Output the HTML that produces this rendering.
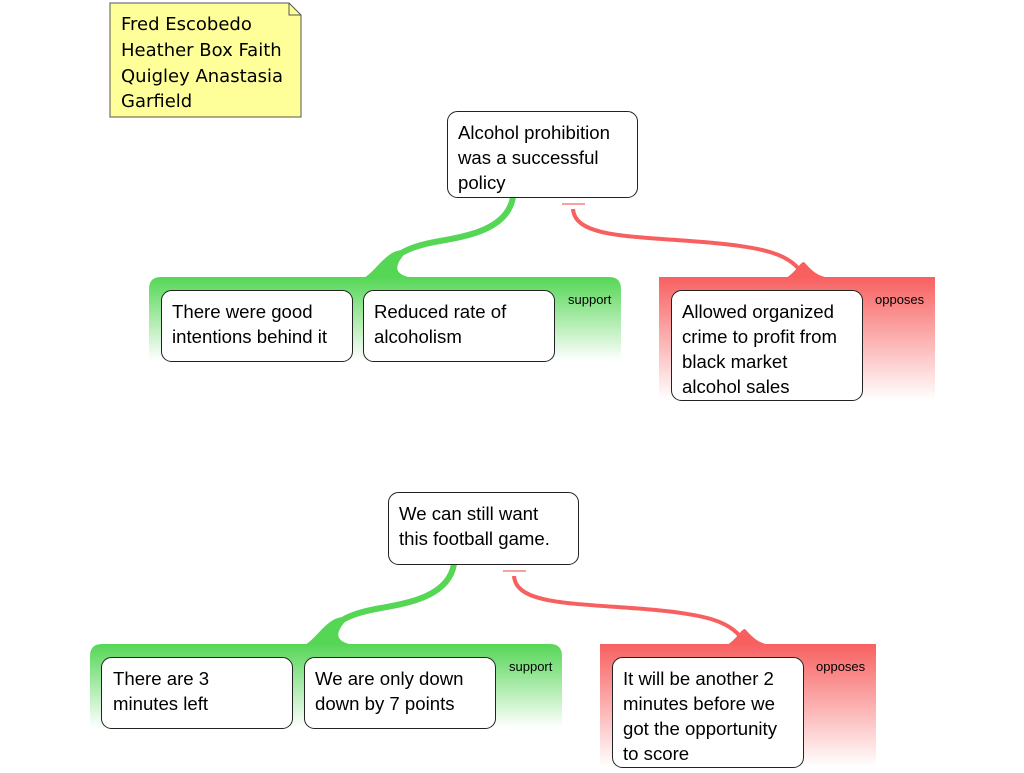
<!DOCTYPE html>
<html><head><meta charset="utf-8"><style>
body{margin:0;background:#fff;width:1024px;height:768px;overflow:hidden}
svg text{font-family:"Liberation Sans",sans-serif}
</style></head><body>
<svg width="1024" height="768" viewBox="0 0 1024 768" xmlns="http://www.w3.org/2000/svg">
<defs>
<linearGradient id="g" x1="0" y1="0" x2="0" y2="1"><stop offset="0" stop-color="#55d655"/><stop offset="1" stop-color="#fff"/></linearGradient>
<linearGradient id="r" x1="0" y1="0" x2="0" y2="1"><stop offset="0" stop-color="#f86060"/><stop offset="1" stop-color="#fff"/></linearGradient>
<g id="grp">
  <path d="M513,197 C508,228 470,236 440,241 C405,247 392,255 382,277" fill="none" stroke="#55d655" stroke-width="6"/>
  <path d="M364,278 C376,270 382,258 394,252 C404,248 408,250 400,260 C394,270 398,275 412,278 Z" fill="#55d655"/>
  <rect x="562" y="203" width="23" height="2" fill="#f8a0a0"/>
  <path d="M573,209 C575,235 620,236 690,241 C770,247 790,254 805,277" fill="none" stroke="#f86060" stroke-width="4"/>
  <path d="M786,278 C796,272 800,262 804,262 C810,268 815,276 830,278 Z" fill="#f86060"/>
  <path d="M149,361 V289 Q149,277 161,277 H609 Q621,277 621,289 V361 Z" fill="url(#g)"/>
  <path d="M659,400 V277 H935 V400 Z" fill="url(#r)"/>
  <text x="568" y="304" font-size="13">support</text>
  <text x="875" y="304" font-size="13">opposes</text>
</g>
</defs>

<path d="M110,3 H289 L301,15 V117 H110 Z" fill="#ffff99" stroke="#555" stroke-width="1"/>
<path d="M289,3 V15 H301" fill="none" stroke="#555"/>
<g font-size="18" fill="#000">
<text x="121" y="30" style="font-family:'Comic Sans MS','DejaVu Sans',cursive">Fred Escobedo</text>
<text x="121" y="56" style="font-family:'Comic Sans MS','DejaVu Sans',cursive">Heather Box Faith</text>
<text x="121" y="82" style="font-family:'Comic Sans MS','DejaVu Sans',cursive">Quigley Anastasia</text>
<text x="121" y="107" style="font-family:'Comic Sans MS','DejaVu Sans',cursive">Garfield</text>
</g>

<use href="#grp"/>
<g fill="#fff" stroke="#222" stroke-width="1">
<rect x="447.5" y="111.5" width="190" height="86" rx="10"/>
<rect x="161.5" y="290.5" width="191" height="71" rx="10"/>
<rect x="363.5" y="290.5" width="191" height="71" rx="10"/>
<rect x="671.5" y="290.5" width="191" height="110" rx="10"/>
</g>
<g font-size="18.6" fill="#000">
<text x="458" y="139">Alcohol prohibition</text><text x="458" y="164">was a successful</text><text x="458" y="189">policy</text>
<text x="172" y="318">There were good</text><text x="172" y="343">intentions behind it</text>
<text x="374" y="318">Reduced rate of</text><text x="374" y="343">alcoholism</text>
<text x="682" y="318">Allowed organized</text><text x="682" y="343">crime to profit from</text><text x="682" y="368">black market</text><text x="682" y="393">alcohol sales</text>
</g>

<use href="#grp" transform="translate(-59,367)"/>
<g fill="#fff" stroke="#222" stroke-width="1">
<rect x="388.5" y="492.5" width="190" height="72" rx="10"/>
<rect x="101.5" y="657.5" width="191" height="71" rx="10"/>
<rect x="304.5" y="657.5" width="191" height="71" rx="10"/>
<rect x="612.5" y="657.5" width="191" height="110" rx="10"/>
</g>
<g font-size="18.6" fill="#000">
<text x="399" y="520">We can still want</text><text x="399" y="545">this football game.</text>
<text x="113" y="685">There are 3</text><text x="113" y="710">minutes left</text>
<text x="315" y="685">We are only down</text><text x="315" y="710">down by 7 points</text>
<text x="623" y="685">It will be another 2</text><text x="623" y="710">minutes before we</text><text x="623" y="735">got the opportunity</text><text x="623" y="760">to score</text>
</g>
</svg>
</body></html>
